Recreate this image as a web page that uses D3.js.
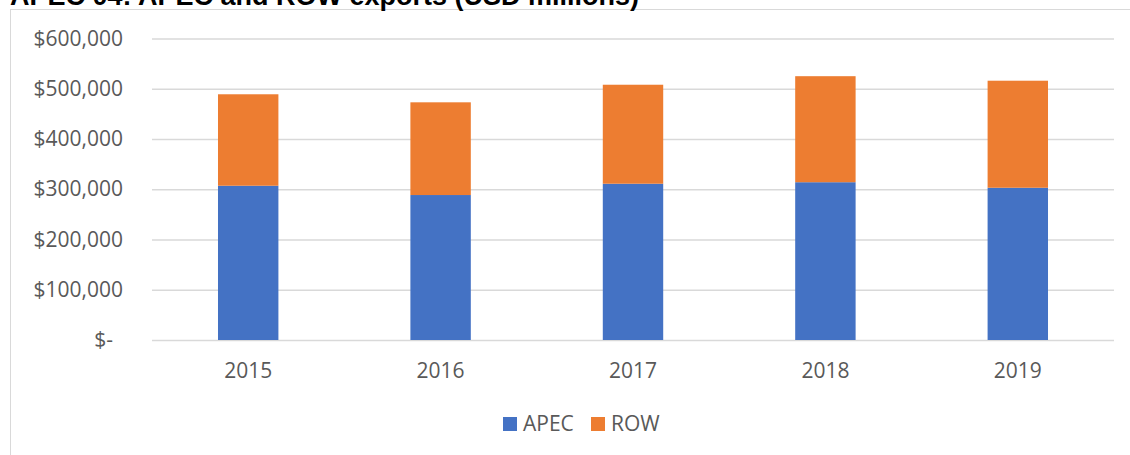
<!DOCTYPE html>
<html>
<head>
<meta charset="utf-8">
<script src="https://d3js.org/d3.v7.min.js"></script>
<style>
  body { margin: 0; background: #fff; }
  svg { display: block; }
</style>
</head>
<body>
<svg id="chart" width="1130" height="455"></svg>
<script>
// chart data (USD millions)
var YEARS = ["2015", "2016", "2017", "2018", "2019"];
var APEC = [307000, 288500, 311000, 314000, 303000];
var ROW = [182000, 184500, 197000, 211000, 213000];
var Y_TICKS = [0, 100000, 200000, 300000, 400000, 500000, 600000];
var SERIES = ["APEC", "ROW"];
var COLORS = ["#4472c4", "#ed7d31"];

var PLOT = { left: 152, right: 1114, top: 38.5, bottom: 340 };
var FONT = "Open Sans, sans-serif";

var svg = d3.select("#chart");

// outer frame of the chart area
svg.append("rect")
    .attr("x", 10.5).attr("y", 9.5)
    .attr("width", 1140).attr("height", 460)
    .attr("fill", "none")
    .attr("stroke", "#d9d9d9");

svg.append("text")
    .attr("x", 10).attr("y", 5)
    .attr("font-family", "Liberation Sans, Arial, sans-serif")
    .attr("font-weight", "bold")
    .attr("font-size", 27)
    .attr("fill", "#000")
    .text("APEC 04: APEC and ROW exports (USD millions)");

var xScale = d3.scaleBand()
    .domain(YEARS)
    .range([PLOT.left, PLOT.right])
    .paddingInner(0.686)
    .paddingOuter(0.343);

var yScale = d3.scaleLinear()
    .domain([0, 600000])
    .range([PLOT.bottom, PLOT.top]);

// gridlines + y labels
var yAxis = d3.axisLeft(yScale)
    .tickValues(Y_TICKS)
    .tickSize(-(PLOT.right - PLOT.left))
    .tickPadding(29)
    .tickFormat(d => d === 0 ? "$-" : "$" + d3.format(",")(d));

var gy = svg.append("g")
    .attr("transform", `translate(${PLOT.left},0)`)
    .call(yAxis);
gy.select(".domain").remove();
gy.selectAll(".tick line").attr("stroke", "#d9d9d9").attr("stroke-width", 1.3);
gy.selectAll(".tick text")
    .attr("font-family", FONT)
    .attr("font-size", 21)
    .attr("fill", "#595959")
    .attr("dx", d => d === 0 ? -10 : 0);

// stacked bars
var stackData = YEARS.map((y, i) => ({ year: y, APEC: APEC[i], ROW: ROW[i] }));
var stacked = d3.stack().keys(SERIES)(stackData);

svg.append("g").selectAll("g")
    .data(stacked)
    .join("g")
    .attr("fill", (d, i) => COLORS[i])
    .selectAll("rect")
    .data(d => d)
    .join("rect")
    .attr("x", d => xScale(d.data.year))
    .attr("width", xScale.bandwidth())
    .attr("y", d => yScale(d[1]))
    .attr("height", d => yScale(d[0]) - yScale(d[1]));

// x labels
var xAxis = d3.axisBottom(xScale).tickSize(0).tickPadding(23);
var gx = svg.append("g")
    .attr("transform", `translate(0,${PLOT.bottom})`)
    .call(xAxis);
gx.select(".domain").remove();
gx.selectAll(".tick text")
    .attr("font-family", FONT)
    .attr("font-size", 21)
    .attr("fill", "#595959");

// legend
var legendX = [503, 591];
var legend = svg.append("g").selectAll("g")
    .data(SERIES)
    .join("g")
    .attr("transform", (d, i) => `translate(${legendX[i]},417)`);
legend.append("rect")
    .attr("width", 14).attr("height", 14)
    .attr("fill", (d, i) => COLORS[i]);
legend.append("text")
    .attr("x", 20).attr("y", 7)
    .attr("dy", "0.35em")
    .attr("font-family", FONT)
    .attr("font-size", 21)
    .attr("fill", "#595959")
    .text(d => d);
</script>
</body>
</html>
